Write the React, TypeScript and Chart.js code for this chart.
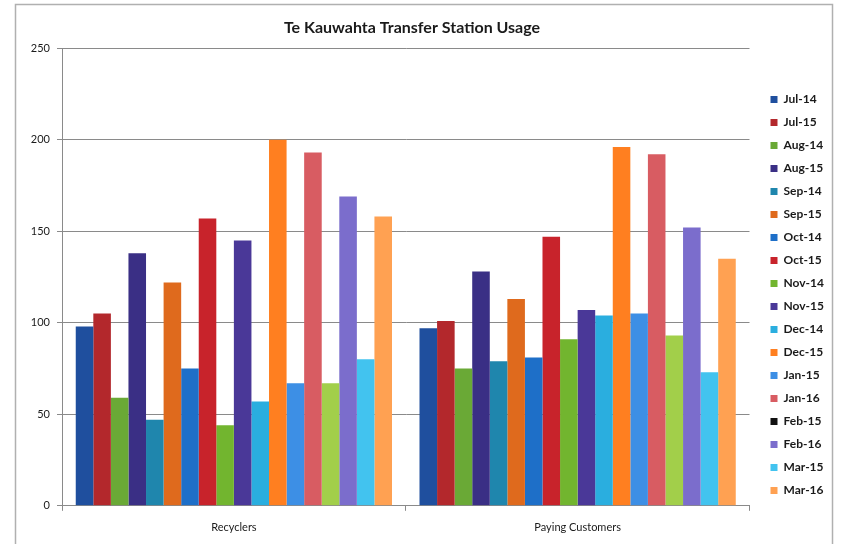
import React, { useEffect, useRef } from "react";
import { Chart, registerables } from "chart.js";

Chart.register(...registerables);

const categories = ["Recyclers", "Paying Customers"];
const seriesNames = [
  "Jul-14", "Jul-15", "Aug-14", "Aug-15", "Sep-14", "Sep-15",
  "Oct-14", "Oct-15", "Nov-14", "Nov-15", "Dec-14", "Dec-15",
  "Jan-15", "Jan-16", "Feb-15", "Feb-16", "Mar-15", "Mar-16",
];
const recyclers = [98, 105, 59, 138, 47, 122, 75, 157, 44, 145, 57, 200, 67, 193, 67, 169, 80, 158];
const payingCustomers = [97, 101, 75, 128, 79, 113, 81, 147, 91, 107, 104, 196, 105, 192, 93, 152, 73, 135];
const seriesColors = [
  "#1f4f9e", "#b3282c", "#6aa936", "#3a2f85", "#1f86ad", "#df6a1d",
  "#1e6fc8", "#c8232b", "#72b52f", "#4a3898", "#2aaedf", "#ff7f20",
  "#3d8fe5", "#d85c62", "#a2cf4a", "#7b6dcc", "#42c3ef", "#ffa152",
];
const legendOverrides: Record<string, string> = { "Feb-15": "#111111" };
const yTicks = [0, 50, 100, 150, 200, 250];

export default function App() {
  const ref = useRef<HTMLCanvasElement | null>(null);

  useEffect(() => {
    if (!ref.current) return;
    const framePlugin = {
      id: "frame",
      beforeDraw(chart: any) {
        const ctx = chart.ctx;
        ctx.save();
        ctx.fillStyle = "#ffffff";
        ctx.fillRect(0, 0, chart.width, chart.height);
        ctx.strokeStyle = "#b0b0b0";
        ctx.lineWidth = 1.5;
        ctx.strokeRect(15.5, 4.5, 817, 560);
        ctx.restore();
      },
    };
    const legendShift = {
      id: "legendShift",
      afterLayout(chart: any) {
        const lg = chart.legend;
        if (!lg) return;
        const dx = 10;
        const dy = 18;
        lg.left += dx;
        lg.right += dx;
        lg.top += dy;
        lg.bottom += dy;
        if (lg.legendHitBoxes) {
          lg.legendHitBoxes.forEach((b: any) => {
            b.left += dx;
            b.top += dy;
          });
        }
      },
    };
    const chart = new Chart(ref.current, {
      type: "bar",
      data: {
        labels: categories,
        datasets: seriesNames.map((name, i) => ({
          label: name,
          data: [recyclers[i], payingCustomers[i]],
          backgroundColor: seriesColors[i],
          borderWidth: 0,
          barPercentage: 1,
          categoryPercentage: 0.92,
        })),
      },
      options: {
        animation: false,
        responsive: false,
        maintainAspectRatio: false,
        layout: { padding: { left: 0, top: 10, right: 37, bottom: 0 } },
        plugins: {
          title: {
            display: true,
            text: "Te Kauwahta Transfer Station Usage",
            color: "#1a1a1a",
            font: { family: "Lato", size: 16, weight: "bold" },
            padding: { top: 8, bottom: 11 },
          },
          legend: {
            position: "right",
            align: "center",
            labels: {
              boxWidth: 7,
              boxHeight: 7,
              padding: 11,
              color: "#1a1a1a",
              font: { family: "Lato", size: 12, weight: "bold" },
              generateLabels(c: any) {
                const items = (Chart.defaults.plugins.legend.labels as any).generateLabels(c);
                items.forEach((it: any) => {
                  if (legendOverrides[it.text]) {
                    it.fillStyle = legendOverrides[it.text];
                  }
                  it.lineWidth = 0;
                });
                return items;
              },
            },
          },
          tooltip: { enabled: false },
        },
        scales: {
          x: {
            grid: {
              display: true,
              drawOnChartArea: false,
              offset: true,
              tickLength: 5,
              color: "#8a8a8a",
            },
            border: { color: "#8a8a8a" },
            ticks: {
              padding: 10,
              color: "#1a1a1a",
              font: { family: "Lato", size: 11 },
            },
          },
          y: {
            min: 0,
            max: 250,
            afterBuildTicks(scale: any) {
              scale.ticks = yTicks.map((v) => ({ value: v }));
            },
            afterFit(scale: any) {
              scale.width = 62;
            },
            grid: {
              color: "#8a8a8a",
              tickLength: 5,
            },
            border: { color: "#8a8a8a" },
            ticks: {
              padding: 7,
              color: "#1a1a1a",
              font: { family: "Lato", size: 11 },
            },
          },
        },
      },
      plugins: [framePlugin, legendShift],
    } as any);
    return () => chart.destroy();
  }, []);

  return (
    <div style={{ position: "fixed", left: 0, top: 0, width: 861, height: 544, background: "#fff" }}>
      <canvas ref={ref} width={861} height={544} style={{ width: 861, height: 544, display: "block" }} />
    </div>
  );
}
